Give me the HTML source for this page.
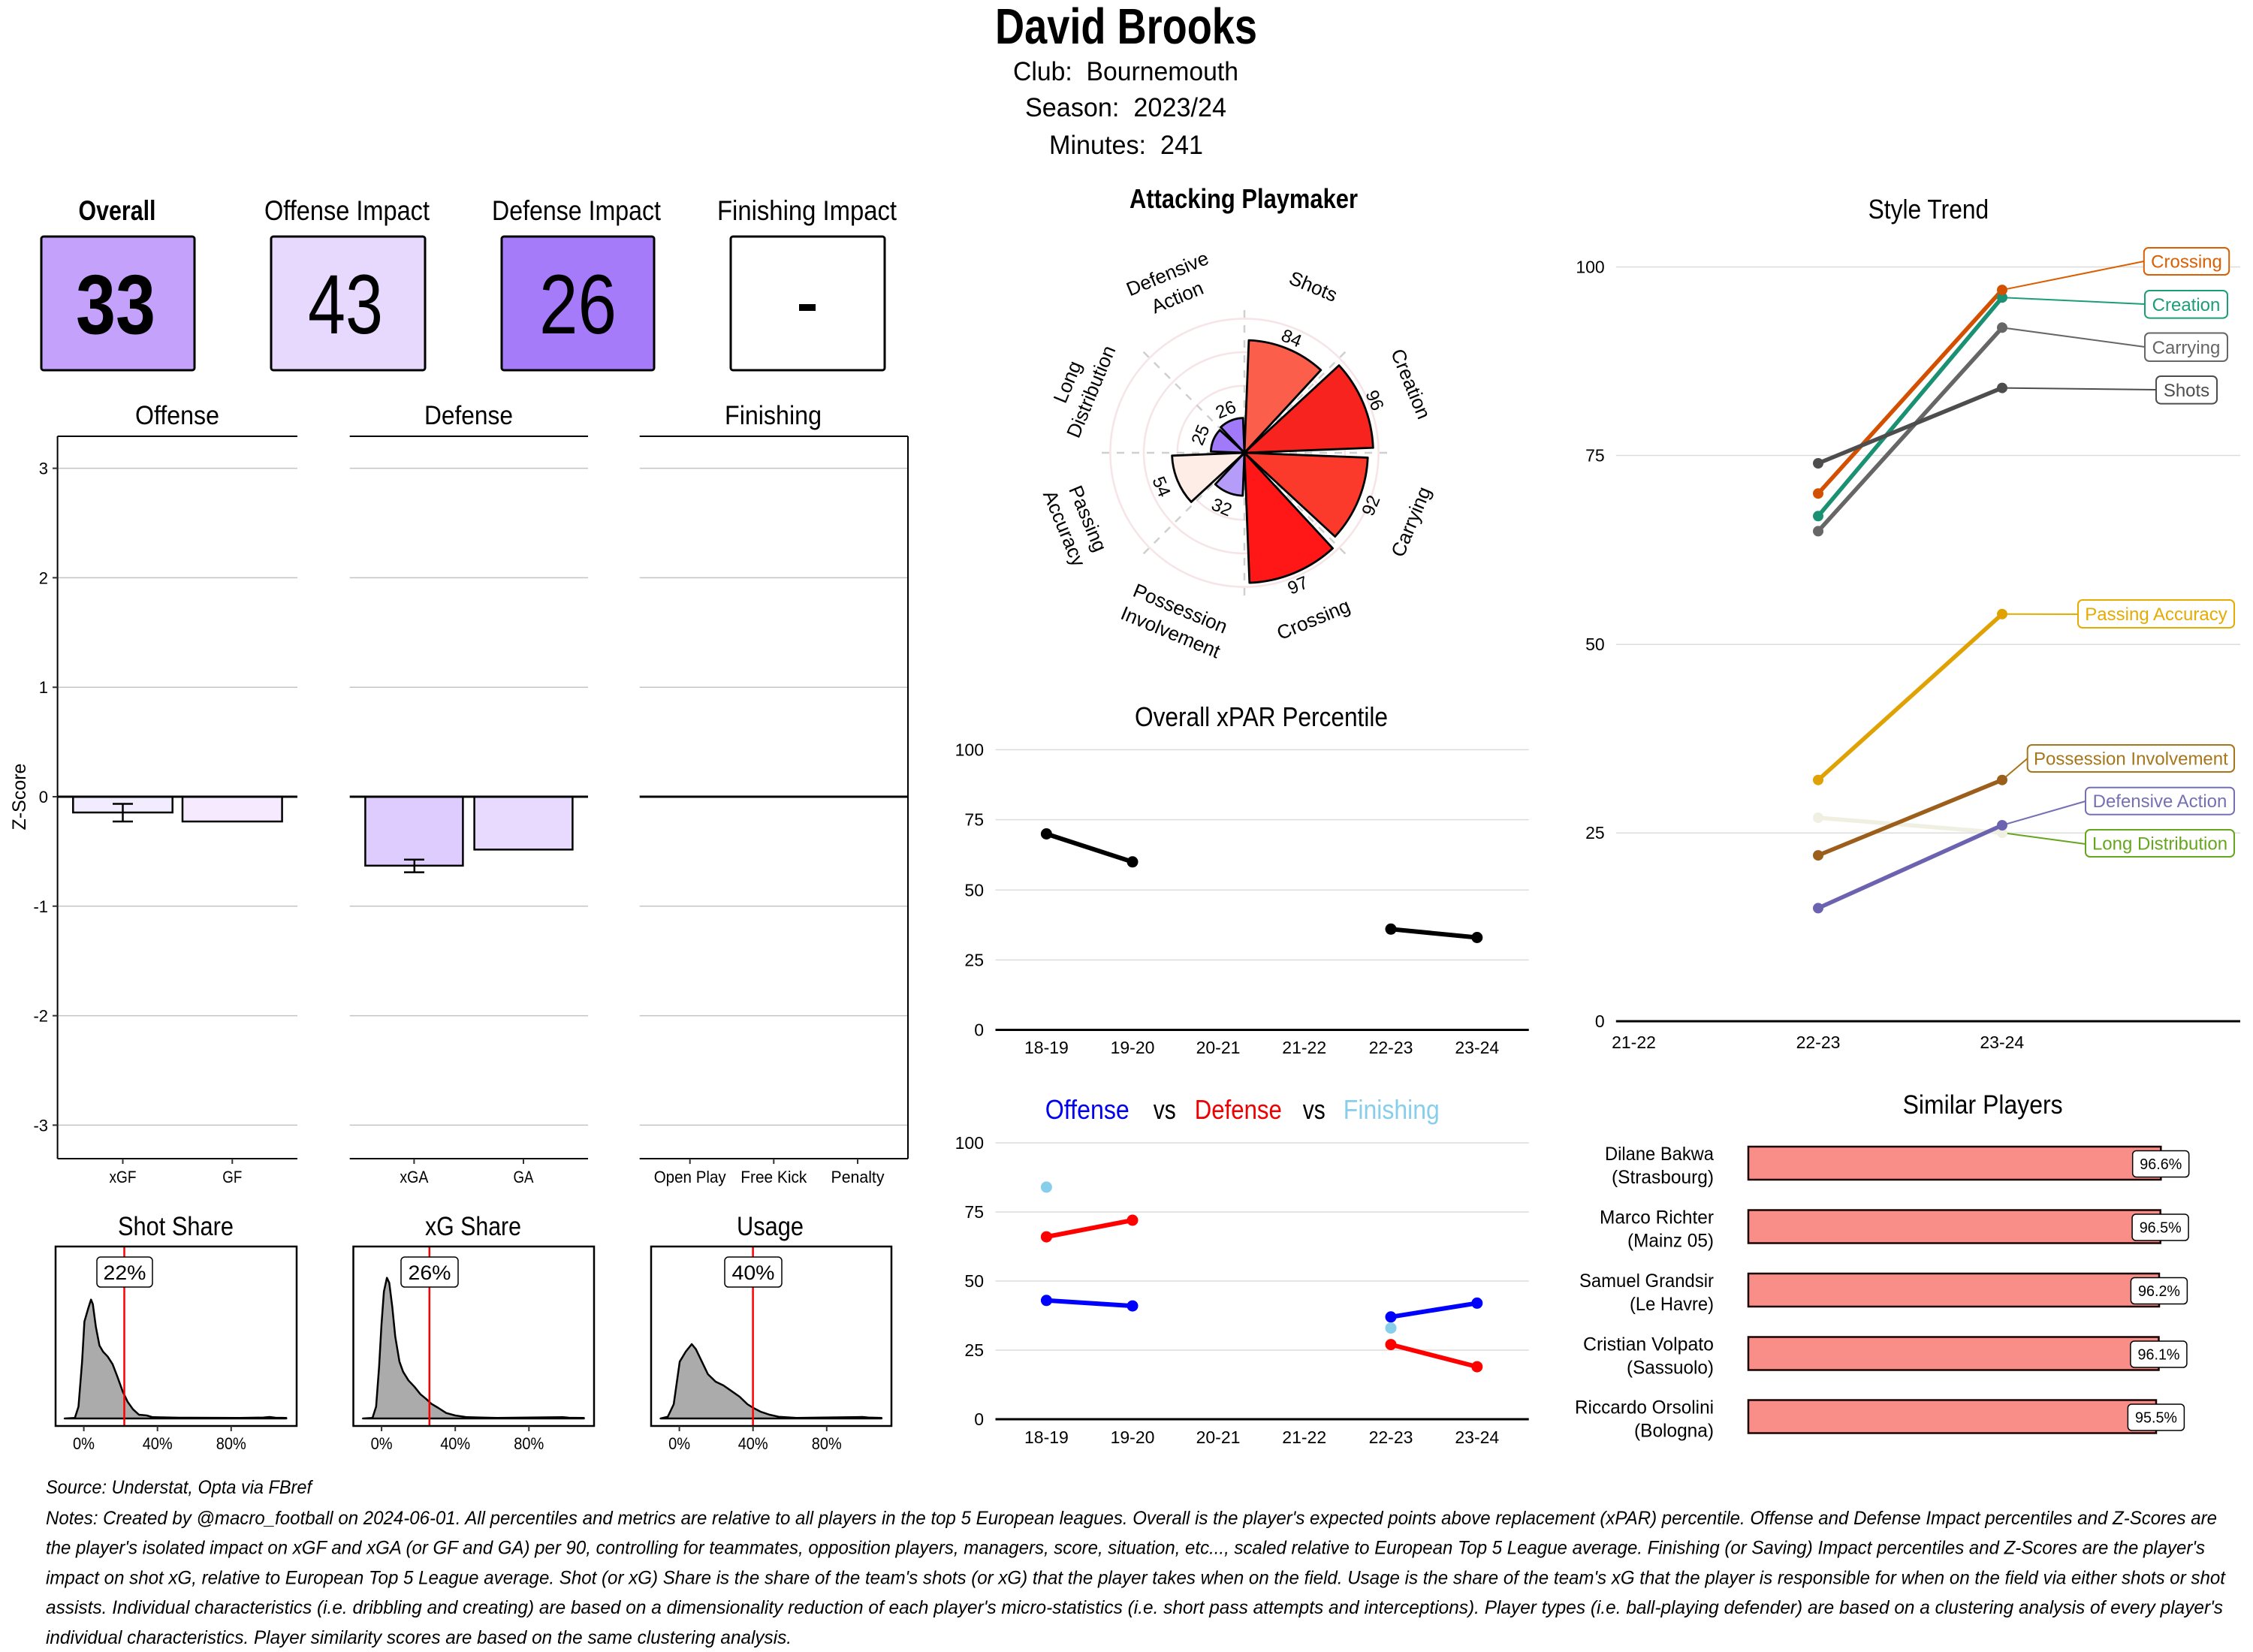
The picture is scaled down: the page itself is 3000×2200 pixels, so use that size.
<!DOCTYPE html>
<html><head><meta charset="utf-8"><style>
html,body{margin:0;padding:0;background:#fff;}
svg{display:block;}
text{font-family:"Liberation Sans",Arial,sans-serif;fill:#000;}
.tk{font-size:23px;fill:#4D4D4D;}
.tc{font-size:22px;fill:#4D4D4D;}
.pl{font-size:26px;}
.vl{font-size:24px;}
.sl{font-size:24px;text-anchor:middle;}
</style></head><body>
<svg width="3000" height="2200" viewBox="0 0 3000 2200" xmlns="http://www.w3.org/2000/svg">
<rect width="3000" height="2200" fill="#fff"/>

<!-- Header -->
<text x="1325" y="58" font-size="67" font-weight="bold" textLength="349" lengthAdjust="spacingAndGlyphs">David Brooks</text>
<text x="1349" y="107" font-size="35" textLength="300" lengthAdjust="spacingAndGlyphs" style="white-space:pre">Club:  Bournemouth</text>
<text x="1365" y="155" font-size="35" textLength="268" lengthAdjust="spacingAndGlyphs" style="white-space:pre">Season:  2023/24</text>
<text x="1397" y="205" font-size="35" textLength="205" lengthAdjust="spacingAndGlyphs" style="white-space:pre">Minutes:  241</text>

<!-- Score cards -->
<text x="104.5" y="293" font-size="37" font-weight="bold" textLength="103" lengthAdjust="spacingAndGlyphs">Overall</text>
<text x="352" y="293" font-size="37" textLength="220" lengthAdjust="spacingAndGlyphs">Offense Impact</text>
<text x="655" y="293" font-size="37" textLength="225" lengthAdjust="spacingAndGlyphs">Defense Impact</text>
<text x="955" y="293" font-size="37" textLength="239" lengthAdjust="spacingAndGlyphs">Finishing Impact</text>
<rect x="55" y="315" width="204" height="178" rx="3" fill="#C4A1FA" stroke="#000" stroke-width="3"/>
<rect x="361" y="315" width="205" height="178" rx="3" fill="#E7D9FE" stroke="#000" stroke-width="3"/>
<rect x="668" y="315" width="203" height="178" rx="3" fill="#A67BF9" stroke="#000" stroke-width="3"/>
<rect x="973" y="315" width="205" height="178" rx="3" fill="#FFFFFF" stroke="#000" stroke-width="3"/>
<text x="101" y="444" font-size="112" font-weight="bold" textLength="106" lengthAdjust="spacingAndGlyphs">33</text>
<text x="410" y="444" font-size="112" textLength="100" lengthAdjust="spacingAndGlyphs">43</text>
<text x="718" y="444" font-size="112" textLength="103" lengthAdjust="spacingAndGlyphs">26</text>
<rect x="1064" y="405" width="22" height="9" fill="#000"/>

<!-- Z-score panels -->
<text x="180" y="565" font-size="35" textLength="112" lengthAdjust="spacingAndGlyphs">Offense</text>
<text x="565" y="565" font-size="35" textLength="118" lengthAdjust="spacingAndGlyphs">Defense</text>
<text x="965" y="565" font-size="35" textLength="129" lengthAdjust="spacingAndGlyphs">Finishing</text>
<g stroke="#C4C4C4" stroke-width="1.5">
  <path d="M76.6,623.6H396M76.6,769.4H396M76.6,915.2H396M76.6,1206.8H396M76.6,1352.6H396M76.6,1498.4H396"/>
  <path d="M465.7,623.6H783M465.7,769.4H783M465.7,915.2H783M465.7,1206.8H783M465.7,1352.6H783M465.7,1498.4H783"/>
  <path d="M851.7,623.6H1209M851.7,769.4H1209M851.7,915.2H1209M851.7,1206.8H1209M851.7,1352.6H1209M851.7,1498.4H1209"/>
</g>
<!-- bars -->
<g stroke="#000" stroke-width="2.5">
  <rect x="97.3" y="1061" width="132.4" height="21" fill="#F2EDFE"/>
  <rect x="243" y="1061" width="132.6" height="33" fill="#F5EAFE"/>
  <rect x="486.4" y="1061" width="130" height="91.8" fill="#DDCCFD"/>
  <rect x="631.6" y="1061" width="130.8" height="70.4" fill="#E8DAFE"/>
  <path d="M163.5,1070.5V1094M150,1070.5H177M150,1094H177" fill="none"/>
  <path d="M551.8,1144.8V1161.6M538,1144.8H565M538,1161.6H565" fill="none"/>
</g>
<g stroke="#000" fill="none">
  <path d="M76.6,1061H396M465.7,1061H783M851.7,1061H1209" stroke-width="3"/>
  <path d="M76.6,581H396M465.7,581H783M851.7,581H1209" stroke-width="2"/>
  <path d="M76.6,1543H396M465.7,1543H783M851.7,1543H1209" stroke-width="2"/>
  <path d="M76.6,581V1543M1209,581V1543" stroke-width="2"/>
  <path d="M70,623.6H76.6M70,769.4H76.6M70,915.2H76.6M70,1061H76.6M70,1206.8H76.6M70,1352.6H76.6M70,1498.4H76.6" stroke-width="2" stroke="#333"/>
  <path d="M163.5,1543V1550M309.3,1543V1550M551.4,1543V1550M697,1543V1550M918.7,1543V1550M1030.3,1543V1550M1142,1543V1550" stroke-width="2" stroke="#333"/>
</g>
<g class="tc" text-anchor="end">
  <text x="64" y="631.6">3</text>
  <text x="64" y="777.4">2</text>
  <text x="64" y="923.2">1</text>
  <text x="64" y="1069">0</text>
  <text x="64" y="1214.8">-1</text>
  <text x="64" y="1360.6">-2</text>
  <text x="64" y="1506.4">-3</text>
</g>
<text transform="translate(34,1061) rotate(-90)" text-anchor="middle" font-size="25">Z-Score</text>
<g class="tc">
  <text x="145.5" y="1575" textLength="36" lengthAdjust="spacingAndGlyphs">xGF</text>
  <text x="296.3" y="1575" textLength="26" lengthAdjust="spacingAndGlyphs">GF</text>
  <text x="532.4" y="1575" textLength="38" lengthAdjust="spacingAndGlyphs">xGA</text>
  <text x="683.5" y="1575" textLength="27" lengthAdjust="spacingAndGlyphs">GA</text>
  <text x="870.7" y="1575" textLength="96" lengthAdjust="spacingAndGlyphs">Open Play</text>
  <text x="986.3" y="1575" textLength="88" lengthAdjust="spacingAndGlyphs">Free Kick</text>
  <text x="1106.5" y="1575" textLength="71" lengthAdjust="spacingAndGlyphs">Penalty</text>
</g>

<!-- Share densities -->
<text x="157" y="1645" font-size="35" textLength="154" lengthAdjust="spacingAndGlyphs">Shot Share</text>
<text x="566" y="1645" font-size="35" textLength="128" lengthAdjust="spacingAndGlyphs">xG Share</text>
<text x="981" y="1645" font-size="35" textLength="89" lengthAdjust="spacingAndGlyphs">Usage</text>
<g fill="#ABABAB" stroke="#000" stroke-width="2.5" stroke-linejoin="round">
  <path d="M86.1,1889 L99.7,1888.3 L104.5,1873.3 L109.3,1813.3 L112.4,1760 L117.2,1743.3 L121.2,1730.7 L123.6,1736.7 L127.6,1766.7 L132.4,1791.7 L137.2,1800 L143.5,1806.7 L149.9,1816.7 L156.3,1833.3 L163.5,1853.3 L169.9,1866.7 L177,1876.7 L185,1884 L195.4,1885 L203.3,1887.3 L239.2,1888 L319,1888.3 L350.9,1887.7 L358.9,1887 L366.8,1888 L381.2,1888.3 L381.2,1889 Z"/>
  <path d="M483.3,1889 L496,1888.3 L500.8,1873.3 L504.8,1820 L508,1763.3 L511.2,1720 L515.2,1701.7 L518.3,1708.3 L522.3,1740 L526.3,1780 L531.9,1813.3 L536.7,1826.7 L543.9,1838.3 L551.8,1846.7 L559.8,1856.7 L567.8,1863.3 L574.2,1869.3 L583.7,1875 L594.1,1881.7 L606.1,1885 L622,1887.3 L661.9,1888.3 L749.6,1887.3 L757.6,1888 L777.5,1888.3 L777.5,1889 Z"/>
  <path d="M879.6,1889 L889.2,1886.7 L897.1,1870 L905.1,1813.3 L913.1,1800 L921.1,1790 L926.6,1796.7 L934.6,1813.3 L942.6,1830 L952.9,1840 L963.3,1845 L972.9,1851.7 L984.8,1860 L995.2,1870 L1003.2,1875 L1012.8,1880 L1024.7,1884 L1036.7,1886.7 L1060.6,1888.3 L1148.3,1887 L1156.3,1887.7 L1173.8,1888.3 L1173.8,1889 Z"/>
</g>
<g stroke="#FF0000" stroke-width="2.5">
  <path d="M165.5,1660V1899M571.8,1660V1899M1002.6,1660V1899"/>
</g>
<g fill="none" stroke="#000" stroke-width="2.5">
  <rect x="74" y="1660" width="321" height="239"/>
  <rect x="470.5" y="1660" width="320.5" height="239"/>
  <rect x="867" y="1660" width="320" height="239"/>
  <path d="M111.6,1899V1906M209.7,1899V1906M307.8,1899V1906M508.1,1899V1906M606.2,1899V1906M704.3,1899V1906M904.6,1899V1906M1002.7,1899V1906M1100.8,1899V1906" stroke="#333" stroke-width="2"/>
</g>
<g fill="#fff" stroke="#000" stroke-width="1.5">
  <rect x="129" y="1674" width="74" height="40" rx="5"/>
  <rect x="534" y="1674" width="76" height="40" rx="5"/>
  <rect x="965" y="1674" width="76" height="40" rx="5"/>
</g>
<text x="137.5" y="1704" font-size="27" textLength="57" lengthAdjust="spacingAndGlyphs">22%</text>
<text x="543.5" y="1704" font-size="27" textLength="57" lengthAdjust="spacingAndGlyphs">26%</text>
<text x="974.5" y="1704" font-size="27" textLength="57" lengthAdjust="spacingAndGlyphs">40%</text>
<g class="tc">
  <text x="97" y="1930" textLength="29" lengthAdjust="spacingAndGlyphs">0%</text>
  <text x="189.7" y="1930" textLength="40" lengthAdjust="spacingAndGlyphs">40%</text>
  <text x="287.8" y="1930" textLength="40" lengthAdjust="spacingAndGlyphs">80%</text>
  <text x="493.6" y="1930" textLength="29" lengthAdjust="spacingAndGlyphs">0%</text>
  <text x="586.2" y="1930" textLength="40" lengthAdjust="spacingAndGlyphs">40%</text>
  <text x="684.3" y="1930" textLength="40" lengthAdjust="spacingAndGlyphs">80%</text>
  <text x="890.1" y="1930" textLength="29" lengthAdjust="spacingAndGlyphs">0%</text>
  <text x="982.7" y="1930" textLength="40" lengthAdjust="spacingAndGlyphs">40%</text>
  <text x="1080.8" y="1930" textLength="40" lengthAdjust="spacingAndGlyphs">80%</text>
</g>

<!-- Polar chart -->
<text x="1504" y="277" font-size="36" font-weight="bold" textLength="304" lengthAdjust="spacingAndGlyphs">Attacking Playmaker</text>
<g fill="none" stroke="#F6E4E6" stroke-width="2.5">
  <circle cx="1657" cy="603" r="44.65"/>
  <circle cx="1657" cy="603" r="89.3"/>
  <circle cx="1657" cy="603" r="133.95"/>
  <circle cx="1657" cy="603" r="178.6"/>
</g>
<g stroke="#CFCFCF" stroke-width="2.5" stroke-dasharray="10,10">
  <path d="M1657,603L1657,406M1657,603L1796.3,463.7M1657,603L1854,603M1657,603L1796.3,742.3M1657,603L1657,800M1657,603L1517.7,742.3M1657,603L1460,603M1657,603L1517.7,463.7"/>
</g>
<g stroke="#000" stroke-width="2.8" stroke-linejoin="round">
  <path d="M1657,603 L1662.89,453.10 A150.02,150.02 0 0 1 1758.83,492.84 Z" fill="#FB5E4A"/>
  <path d="M1657,603 L1782.91,486.61 A171.46,171.46 0 0 1 1828.33,596.27 Z" fill="#F6231E"/>
  <path d="M1657,603 L1821.18,609.45 A164.31,164.31 0 0 1 1777.66,714.53 Z" fill="#FB3A2B"/>
  <path d="M1657,603 L1774.59,730.21 A173.24,173.24 0 0 1 1663.80,776.11 Z" fill="#FF1616"/>
  <path d="M1657,603 L1654.76,660.11 A57.15,57.15 0 0 1 1618.21,644.97 Z" fill="#B59CF9"/>
  <path d="M1657,603 L1586.18,668.46 A96.44,96.44 0 0 1 1560.63,606.79 Z" fill="#FEEDE6"/>
  <path d="M1657,603 L1612.38,601.25 A44.65,44.65 0 0 1 1624.21,572.69 Z" fill="#A07AF8"/>
  <path d="M1657,603 L1625.48,568.90 A46.44,46.44 0 0 1 1655.18,556.60 Z" fill="#A07AF8"/>
</g>
<g class="vl" text-anchor="middle">
  <text transform="translate(1720,450) rotate(22.5)" y="8.5">84</text>
  <text transform="translate(1831,533) rotate(67.5)" y="8.5">96</text>
  <text transform="translate(1825,673) rotate(-67.5)" y="8.5">92</text>
  <text transform="translate(1728,779) rotate(-22.5)" y="8.5">97</text>
  <text transform="translate(1627,675) rotate(22.5)" y="8.5">32</text>
  <text transform="translate(1547,648) rotate(67.5)" y="8.5">54</text>
  <text transform="translate(1598,579) rotate(-67.5)" y="8.5">25</text>
  <text transform="translate(1632,545) rotate(-22.5)" y="8.5">26</text>
</g>
<g class="pl" text-anchor="middle">
  <text transform="translate(1748.8,381.3) rotate(22.5)" y="9">Shots</text>
  <text transform="translate(1878.7,511.2) rotate(67.5)" y="9">Creation</text>
  <text transform="translate(1878.7,694.8) rotate(-67.5)" y="9">Carrying</text>
  <text transform="translate(1748.8,824.7) rotate(-22.5)" y="9">Crossing</text>
  <g transform="translate(1565.2,826) rotate(22.5)"><text y="-8">Possession</text><text y="26">Involvement</text></g>
  <g transform="translate(1433,697) rotate(67.5)"><text y="-8">Passing</text><text y="26">Accuracy</text></g>
  <g transform="translate(1437,515) rotate(-67.5)"><text y="-8">Long</text><text y="26">Distribution</text></g>
  <g transform="translate(1561,380) rotate(-22.5)"><text y="-8">Defensive</text><text y="26">Action</text></g>
</g>

<!-- Overall xPAR Percentile -->
<text x="1511" y="967" font-size="36" textLength="337" lengthAdjust="spacingAndGlyphs">Overall xPAR Percentile</text>
<g stroke="#DCDCDC" stroke-width="1.5">
  <path d="M1325.5,998.4H2035.7M1325.5,1091.6H2035.7M1325.5,1185.3H2035.7M1325.5,1278.4H2035.7"/>
</g>
<path d="M1325.5,1371.5H2035.7" stroke="#000" stroke-width="3"/>
<g class="tk" text-anchor="end">
  <text x="1310" y="1006.4">100</text>
  <text x="1310" y="1099.6">75</text>
  <text x="1310" y="1193.3">50</text>
  <text x="1310" y="1286.4">25</text>
  <text x="1310" y="1379.5">0</text>
</g>
<g class="tk" text-anchor="middle">
  <text x="1393.4" y="1403">18-19</text>
  <text x="1508" y="1403">19-20</text>
  <text x="1622" y="1403">20-21</text>
  <text x="1736.7" y="1403">21-22</text>
  <text x="1852" y="1403">22-23</text>
  <text x="1966.8" y="1403">23-24</text>
</g>
<g stroke="#000" stroke-width="6" stroke-linecap="round">
  <path d="M1393.4,1110.5L1508,1147.8M1852,1237.3L1966.8,1248.5" fill="none"/>
</g>
<g fill="#000">
  <circle cx="1393.4" cy="1110.5" r="7.5"/><circle cx="1508" cy="1147.8" r="7.5"/>
  <circle cx="1852" cy="1237.3" r="7.5"/><circle cx="1966.8" cy="1248.5" r="7.5"/>
</g>

<!-- Offense vs Defense vs Finishing -->
<text x="1391.8" y="1490" font-size="36" style="fill:#0000EE" textLength="112" lengthAdjust="spacingAndGlyphs">Offense</text>
<text x="1535.7" y="1490" font-size="36" textLength="30" lengthAdjust="spacingAndGlyphs">vs</text>
<text x="1590.8" y="1490" font-size="36" style="fill:#EE0000" textLength="116" lengthAdjust="spacingAndGlyphs">Defense</text>
<text x="1734.7" y="1490" font-size="36" textLength="30" lengthAdjust="spacingAndGlyphs">vs</text>
<text x="1788.8" y="1490" font-size="36" style="fill:#87CEEB" textLength="128" lengthAdjust="spacingAndGlyphs">Finishing</text>
<g stroke="#DCDCDC" stroke-width="1.5">
  <path d="M1325.5,1522H2035.7M1325.5,1614H2035.7M1325.5,1706H2035.7M1325.5,1798H2035.7"/>
</g>
<path d="M1325.5,1890H2035.7" stroke="#000" stroke-width="3"/>
<g class="tk" text-anchor="end">
  <text x="1310" y="1530">100</text>
  <text x="1310" y="1622">75</text>
  <text x="1310" y="1714">50</text>
  <text x="1310" y="1806">25</text>
  <text x="1310" y="1898">0</text>
</g>
<g class="tk" text-anchor="middle">
  <text x="1393.4" y="1922">18-19</text>
  <text x="1508" y="1922">19-20</text>
  <text x="1622" y="1922">20-21</text>
  <text x="1736.7" y="1922">21-22</text>
  <text x="1852" y="1922">22-23</text>
  <text x="1966.8" y="1922">23-24</text>
</g>
<g stroke-width="6" stroke-linecap="round" fill="none">
  <path d="M1393.4,1731.8L1508,1739.1M1852,1753.8L1966.8,1735.4" stroke="#0000FF"/>
  <path d="M1393.4,1647.1L1508,1625M1852,1790.6L1966.8,1820.1" stroke="#FF0000"/>
</g>
<g fill="#0000FF">
  <circle cx="1393.4" cy="1731.8" r="7.5"/><circle cx="1508" cy="1739.1" r="7.5"/>
  <circle cx="1852" cy="1753.8" r="7.5"/><circle cx="1966.8" cy="1735.4" r="7.5"/>
</g>
<g fill="#FF0000">
  <circle cx="1393.4" cy="1647.1" r="7.5"/><circle cx="1508" cy="1625" r="7.5"/>
  <circle cx="1852" cy="1790.6" r="7.5"/><circle cx="1966.8" cy="1820.1" r="7.5"/>
</g>
<g fill="#87CEEB">
  <circle cx="1393.4" cy="1580.9" r="7.5"/><circle cx="1852" cy="1768.6" r="7.5"/>
</g>

<!-- Style Trend -->
<text x="2487.6" y="291" font-size="36" textLength="160.6" lengthAdjust="spacingAndGlyphs">Style Trend</text>
<g stroke="#DCDCDC" stroke-width="1.5">
  <path d="M2151.8,355.5H2983M2151.8,606.5H2983M2151.8,858.2H2983M2151.8,1109.2H2983"/>
</g>
<path d="M2151.8,1360H2983" stroke="#000" stroke-width="3"/>
<g class="tk" text-anchor="end">
  <text x="2136.7" y="363.5">100</text>
  <text x="2136.7" y="614.5">75</text>
  <text x="2136.7" y="866.2">50</text>
  <text x="2136.7" y="1117.2">25</text>
  <text x="2136.7" y="1368">0</text>
</g>
<g class="tk" text-anchor="middle">
  <text x="2175.5" y="1396">21-22</text>
  <text x="2421" y="1396">22-23</text>
  <text x="2665.8" y="1396">23-24</text>
</g>
<!-- leader lines -->
<g stroke-width="2" fill="none">
  <path d="M2666,386.1L2854.8,348" stroke="#D95F02"/>
  <path d="M2666,396.2L2856,405" stroke="#1B9E77"/>
  <path d="M2666,436.3L2856,462" stroke="#666666"/>
  <path d="M2666,516.6L2871,519" stroke="#4D4D4D"/>
  <path d="M2666,817.8L2767,818" stroke="#E6AB02"/>
  <path d="M2666,1038.7L2699.7,1010" stroke="#A6761D"/>
  <path d="M2666,1099L2777,1067" stroke="#7570B3"/>
  <path d="M2666,1109L2777,1124" stroke="#66A61E"/>
</g>
<!-- series -->
<g stroke-width="5.5" stroke-linecap="round" fill="none">
  <path d="M2421,1089L2666,1109" stroke="#EFEFE2"/>
  <path d="M2421,1209.4L2666,1099" stroke="#6B62B0"/>
  <path d="M2421,1139.1L2666,1038.7" stroke="#9C5E1B"/>
  <path d="M2421,1038.7L2666,817.8" stroke="#E0A202"/>
  <path d="M2421,707.4L2666,436.3" stroke="#666666"/>
  <path d="M2421,687.3L2666,396.2" stroke="#1B9173"/>
  <path d="M2421,657.2L2666,386.1" stroke="#D35000"/>
  <path d="M2421,617L2666,516.6" stroke="#4D4D4D"/>
</g>
<g>
  <circle cx="2421" cy="1089" r="7" fill="#EFEFE2"/><circle cx="2666" cy="1109" r="7" fill="#EFEFE2"/>
  <circle cx="2421" cy="1209.4" r="7" fill="#6B62B0"/><circle cx="2666" cy="1099" r="7" fill="#6B62B0"/>
  <circle cx="2421" cy="1139.1" r="7" fill="#9C5E1B"/><circle cx="2666" cy="1038.7" r="7" fill="#9C5E1B"/>
  <circle cx="2421" cy="1038.7" r="7" fill="#E0A202"/><circle cx="2666" cy="817.8" r="7" fill="#E0A202"/>
  <circle cx="2421" cy="707.4" r="7" fill="#666666"/><circle cx="2666" cy="436.3" r="7" fill="#666666"/>
  <circle cx="2421" cy="687.3" r="7" fill="#1B9173"/><circle cx="2666" cy="396.2" r="7" fill="#1B9173"/>
  <circle cx="2421" cy="657.2" r="7" fill="#D35000"/><circle cx="2666" cy="386.1" r="7" fill="#D35000"/>
  <circle cx="2421" cy="617" r="7" fill="#4D4D4D"/><circle cx="2666" cy="516.6" r="7" fill="#4D4D4D"/>
</g>
<!-- label boxes -->
<g fill="#fff" stroke-width="2">
  <rect x="2854.8" y="330" width="113.4" height="36" rx="6" stroke="#D95F02"/>
  <rect x="2856" y="387" width="110" height="36.6" rx="6" stroke="#1B9E77"/>
  <rect x="2856" y="443.5" width="110" height="37.5" rx="6" stroke="#666666"/>
  <rect x="2871" y="501" width="81" height="36.6" rx="6" stroke="#4D4D4D"/>
  <rect x="2767" y="799" width="208" height="37" rx="6" stroke="#E6AB02"/>
  <rect x="2699.7" y="992" width="275.3" height="36" rx="6" stroke="#A6761D"/>
  <rect x="2777" y="1048.7" width="198" height="36" rx="6" stroke="#7570B3"/>
  <rect x="2777" y="1105" width="198" height="36" rx="6" stroke="#66A61E"/>
</g>
<text class="sl" x="2911.5" y="356.5" style="fill:#D95F02">Crossing</text>
<text class="sl" x="2911" y="414" style="fill:#1B9E77">Creation</text>
<text class="sl" x="2911" y="471" style="fill:#666666">Carrying</text>
<text class="sl" x="2911.5" y="528" style="fill:#4D4D4D">Shots</text>
<text class="sl" x="2871" y="826" style="fill:#E6AB02">Passing Accuracy</text>
<text class="sl" x="2837.4" y="1018.5" style="fill:#A6761D">Possession Involvement</text>
<text class="sl" x="2876" y="1075" style="fill:#7570B3">Defensive Action</text>
<text class="sl" x="2876" y="1131.5" style="fill:#66A61E">Long Distribution</text>

<!-- Similar Players -->
<text x="2533.6" y="1483" font-size="35" textLength="213" lengthAdjust="spacingAndGlyphs">Similar Players</text>
<g fill="#F98E88" stroke="#1A0000" stroke-width="2.5">
  <rect x="2328" y="1527" width="549.3" height="44"/>
  <rect x="2328" y="1611.5" width="548.7" height="44"/>
  <rect x="2328" y="1696" width="547" height="44"/>
  <rect x="2328" y="1780.5" width="546.5" height="44"/>
  <rect x="2328" y="1864.5" width="543" height="44"/>
</g>
<g fill="#fff" stroke="#000" stroke-width="1.5">
  <rect x="2839.7" y="1532.5" width="75" height="35" rx="5"/>
  <rect x="2839.1" y="1617" width="75" height="35" rx="5"/>
  <rect x="2837.4" y="1701.5" width="75" height="35" rx="5"/>
  <rect x="2836.9" y="1786" width="75" height="35" rx="5"/>
  <rect x="2833.4" y="1870" width="75" height="35" rx="5"/>
</g>
<g font-size="20">
  <text x="2849.3" y="1557" textLength="56" lengthAdjust="spacingAndGlyphs">96.6%</text>
  <text x="2848.7" y="1641.5" textLength="56" lengthAdjust="spacingAndGlyphs">96.5%</text>
  <text x="2847" y="1726" textLength="56" lengthAdjust="spacingAndGlyphs">96.2%</text>
  <text x="2846.5" y="1810.5" textLength="56" lengthAdjust="spacingAndGlyphs">96.1%</text>
  <text x="2843" y="1894.5" textLength="56" lengthAdjust="spacingAndGlyphs">95.5%</text>
</g>
<g font-size="25">
  <text x="2137" y="1545" textLength="145" lengthAdjust="spacingAndGlyphs">Dilane Bakwa</text>
  <text x="2146" y="1576" textLength="136" lengthAdjust="spacingAndGlyphs">(Strasbourg)</text>
  <text x="2130" y="1629.5" textLength="152" lengthAdjust="spacingAndGlyphs">Marco Richter</text>
  <text x="2167" y="1660.5" textLength="115" lengthAdjust="spacingAndGlyphs">(Mainz 05)</text>
  <text x="2103" y="1714" textLength="179" lengthAdjust="spacingAndGlyphs">Samuel Grandsir</text>
  <text x="2170" y="1745" textLength="112" lengthAdjust="spacingAndGlyphs">(Le Havre)</text>
  <text x="2108" y="1798.5" textLength="174" lengthAdjust="spacingAndGlyphs">Cristian Volpato</text>
  <text x="2166" y="1829.5" textLength="116" lengthAdjust="spacingAndGlyphs">(Sassuolo)</text>
  <text x="2097" y="1882.5" textLength="185" lengthAdjust="spacingAndGlyphs">Riccardo Orsolini</text>
  <text x="2176" y="1913.5" textLength="106" lengthAdjust="spacingAndGlyphs">(Bologna)</text>
</g>

<!-- Notes -->
<g font-size="25" font-style="italic">
  <text x="61" y="1989" textLength="354" lengthAdjust="spacingAndGlyphs">Source: Understat, Opta via FBref</text>
  <text x="61" y="2030" textLength="2891" lengthAdjust="spacingAndGlyphs">Notes: Created by @macro_football on 2024-06-01. All percentiles and metrics are relative to all players in the top 5 European leagues. Overall is the player's expected points above replacement (xPAR) percentile. Offense and Defense Impact percentiles and Z-Scores are</text>
  <text x="61" y="2069.5" textLength="2875" lengthAdjust="spacingAndGlyphs">the player's isolated impact on xGF and xGA (or GF and GA) per 90, controlling for teammates, opposition players, managers, score, situation, etc..., scaled relative to European Top 5 League average. Finishing (or Saving) Impact percentiles and Z-Scores are the player's</text>
  <text x="61" y="2109.5" textLength="2902" lengthAdjust="spacingAndGlyphs">impact on shot xG, relative to European Top 5 League average. Shot (or xG) Share is the share of the team's shots (or xG) that the player takes when on the field. Usage is the share of the team's xG that the player is responsible for when on the field via either shots or shot</text>
  <text x="61" y="2149" textLength="2899" lengthAdjust="spacingAndGlyphs">assists. Individual characteristics (i.e. dribbling and creating) are based on a dimensionality reduction of each player's micro-statistics (i.e. short pass attempts and interceptions). Player types (i.e. ball-playing defender) are based on a clustering analysis of every player's</text>
  <text x="61" y="2189" textLength="993" lengthAdjust="spacingAndGlyphs">individual characteristics. Player similarity scores are based on the same clustering analysis.</text>
</g>
</svg>
</body></html>
